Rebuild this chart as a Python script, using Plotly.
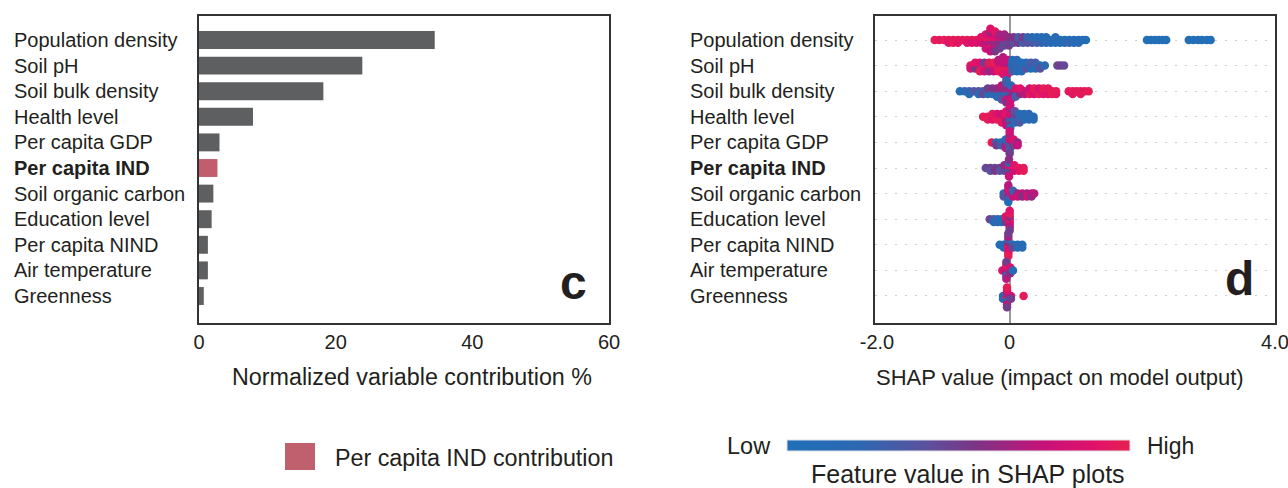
import plotly.graph_objects as go

W, H = 1288, 488

# ---------------- data ----------------
features = ["Population density", "Soil pH", "Soil bulk density", "Health level",
            "Per capita GDP", "Per capita IND", "Soil organic carbon", "Education level",
            "Per capita NIND", "Air temperature", "Greenness"]
highlight = "Per capita IND"
contribution = [34.5, 23.9, 18.2, 7.9, 3.0, 2.7, 2.1, 1.85, 1.3, 1.3, 0.7]
c_ticks = [0, 20, 40, 60]
d_ticks = [-2, 0, 4]
d_ticktext = ["-2.0", "0", "4.0"]

# SHAP beeswarm: (SHAP value, [feature values (0=low,1=high) of the points at that value])
shap_population_density = [
    (-1.13, [0.97]), (-1.06, [0.95]), (-0.99, [0.97]), (-0.92, [0.97, 0.9]),
    (-0.85, [0.95, 0.97]), (-0.78, [0.97, 0.92]), (-0.71, [0.95]), (-0.64, [0.97, 0.9]),
    (-0.57, [0.95, 0.85]), (-0.50, [0.97, 0.88]), (-0.43, [0.95, 0.8, 0.9]),
    (-0.36, [0.9, 0.75, 0.95, 0.7, 0.85, 0.8]),
    (-0.29, [0.85, 0.7, 0.95, 0.65, 0.8, 0.9, 0.6, 0.75, 0.88]),
    (-0.22, [0.8, 0.65, 0.9, 0.6, 0.75, 0.7, 0.92, 0.55]),
    (-0.15, [0.7, 0.55, 0.8, 0.6, 0.65, 0.5]),
    (-0.08, [0.6, 0.5, 0.7, 0.45, 0.65]),
    (-0.01, [0.55, 0.45, 0.6, 0.5]),
    (0.06, [0.5, 0.4, 0.55]), (0.13, [0.45, 0.5, 0.35]), (0.20, [0.45, 0.3, 0.5]),
    (0.27, [0.35, 0.4, 0.25]), (0.34, [0.25, 0.35, 0.2]), (0.41, [0.2, 0.3, 0.15]),
    (0.48, [0.15, 0.25, 0.1]), (0.55, [0.12, 0.2, 0.1]), (0.62, [0.1, 0.15]),
    (0.69, [0.12, 0.08, 0.2]), (0.76, [0.1, 0.15]), (0.83, [0.08, 0.12]),
    (0.90, [0.1, 0.25]), (0.97, [0.08, 0.12]), (1.04, [0.1, 0.15]),
    (1.10, [0.08]), (1.15, [0.1]),
    (2.07, [0.05]), (2.13, [0.05]), (2.19, [0.05]), (2.25, [0.05]), (2.31, [0.05]), (2.36, [0.05]),
    (2.70, [0.05]), (2.77, [0.05]), (2.84, [0.05]), (2.90, [0.05]), (2.97, [0.05]), (3.03, [0.05]),
]
shap_soil_ph = [
    (-0.59, [0.95, 0.85]), (-0.52, [0.97, 0.55, 0.9]), (-0.45, [0.95, 0.6, 0.85, 0.97]),
    (-0.38, [0.9, 0.97, 0.5, 0.8]), (-0.31, [0.97, 0.85, 0.95, 0.6]),
    (-0.24, [0.95, 0.9, 0.97, 0.75]), (-0.17, [0.9, 0.97, 0.8, 0.95, 0.7]),
    (-0.10, [0.85, 0.95, 0.75, 0.97, 0.8, 0.9, 0.7]),
    (-0.03, [0.8, 0.9, 0.65, 0.95, 0.75, 0.85]),
    (0.04, [0.1, 0.2, 0.05, 0.35, 0.15]), (0.11, [0.08, 0.15, 0.3, 0.1, 0.2]),
    (0.18, [0.1, 0.25, 0.08, 0.15]), (0.25, [0.12, 0.4, 0.1]), (0.32, [0.15, 0.1, 0.35]),
    (0.39, [0.2, 0.1, 0.3]), (0.46, [0.15, 0.4]), (0.53, [0.2]),
    (0.72, [0.45]), (0.77, [0.5]), (0.82, [0.45]),
]
shap_soil_bulk_density = [
    (-0.75, [0.1]), (-0.68, [0.2]), (-0.61, [0.3, 0.12]), (-0.54, [0.35]),
    (-0.47, [0.4, 0.2]), (-0.40, [0.3, 0.45]), (-0.33, [0.35, 0.2, 0.5]),
    (-0.26, [0.4, 0.15, 0.55]), (-0.19, [0.45, 0.3, 0.6, 0.2]),
    (-0.12, [0.5, 0.35, 0.6, 0.2, 0.7, 0.4]),
    (-0.05, [0.45, 0.3, 0.65, 0.2, 0.55, 0.75, 0.35, 0.6, 0.25]),
    (0.02, [0.5, 0.3, 0.7, 0.6, 0.2, 0.8]), (0.09, [0.75, 0.5, 0.85, 0.3]),
    (0.16, [0.8, 0.6, 0.9]), (0.23, [0.85, 0.7]), (0.30, [0.9, 0.95, 0.8]),
    (0.37, [0.95, 0.85, 0.97]), (0.44, [0.9, 0.97, 0.85]), (0.51, [0.95, 0.9, 0.97]),
    (0.58, [0.97, 0.9, 0.95]), (0.64, [0.95, 0.97]), (0.70, [0.97, 0.95]),
    (0.89, [0.95]), (0.95, [0.97, 0.93]), (1.01, [0.95]), (1.07, [0.97, 0.95]),
    (1.13, [0.95]), (1.19, [0.97]),
]
shap_health_level = [
    (-0.40, [0.97]), (-0.33, [0.95, 0.97]), (-0.26, [0.97, 0.9, 0.95]),
    (-0.19, [0.95, 0.97, 0.85]), (-0.12, [0.9, 0.97, 0.8, 0.95]),
    (-0.05, [0.85, 0.7, 0.95, 0.6, 0.9, 0.75]),
    (0.01, [0.6, 0.45, 0.75, 0.3, 0.85, 0.5, 0.65, 0.2, 0.8]),
    (0.08, [0.3, 0.15, 0.5, 0.2, 0.4]), (0.15, [0.15, 0.25, 0.1, 0.35]),
    (0.22, [0.1, 0.2, 0.15]), (0.29, [0.12, 0.08, 0.2]), (0.36, [0.1, 0.15]),
]
shap_per_capita_gdp = [
    (-0.27, [0.97]), (-0.20, [0.1, 0.5]), (-0.13, [0.15, 0.3]),
    (-0.06, [0.2, 0.55, 0.1, 0.7]),
    (0.00, [0.6, 0.2, 0.75, 0.45, 0.85, 0.3, 0.65, 0.5, 0.8]),
    (0.06, [0.7, 0.5, 0.85]), (0.12, [0.6, 0.75]),
]
shap_per_capita_ind = [
    (-0.36, [0.45]), (-0.29, [0.5, 0.4]), (-0.22, [0.45, 0.55]), (-0.15, [0.5, 0.4]),
    (-0.08, [0.1, 0.45, 0.6]),
    (-0.01, [0.7, 0.3, 0.85, 0.5, 0.15, 0.8, 0.6]),
    (0.07, [0.95, 0.8, 0.9]), (0.14, [0.97, 0.9]), (0.21, [0.95, 0.97]),
]
shap_soil_organic_carbon = [
    (-0.09, [0.15, 0.35]),
    (-0.02, [0.2, 0.6, 0.8, 0.4, 0.9, 0.1, 0.7]),
    (0.05, [0.55, 0.75, 0.3]), (0.12, [0.6, 0.8]), (0.19, [0.75, 0.55]),
    (0.26, [0.65, 0.8]), (0.33, [0.75, 0.6]), (0.37, [0.7]),
]
shap_education_level = [
    (-0.30, [0.45]), (-0.24, [0.4, 0.15]), (-0.18, [0.1, 0.2]), (-0.12, [0.15, 0.1]),
    (-0.06, [0.1, 0.5, 0.9]),
    (0.00, [0.85, 0.95, 0.6, 0.8, 0.97, 0.7, 0.9, 0.5]),
]
shap_per_capita_nind = [
    (-0.15, [0.1]), (-0.09, [0.15, 0.1]),
    (-0.02, [0.8, 0.95, 0.6, 0.85, 0.3, 0.9, 0.7, 0.97, 0.5]),
    (0.05, [0.15, 0.45]), (0.12, [0.1, 0.2]), (0.19, [0.1, 0.15]),
]
shap_air_temperature = [
    (-0.11, [0.85]),
    (-0.05, [0.9, 0.6, 0.8, 0.3, 0.95, 0.7, 0.5]),
    (0.01, [0.2, 0.6, 0.85]), (0.05, [0.1]),
]
shap_greenness = [
    (-0.10, [0.1, 0.2]),
    (-0.04, [0.85, 0.95, 0.6, 0.2, 0.9, 0.75, 0.97, 0.5]),
    (0.02, [0.8, 0.5]), (0.21, [0.97]),
]
shap_rows = [shap_population_density, shap_soil_ph, shap_soil_bulk_density, shap_health_level,
             shap_per_capita_gdp, shap_per_capita_ind, shap_soil_organic_carbon,
             shap_education_level, shap_per_capita_nind, shap_air_temperature, shap_greenness]

# ---------------- styling ----------------
FONT = "Liberation Sans, Arial, sans-serif"
TXT = "#231f20"
BAR_GREY = "#5e5f61"
BAR_HI = "#c25d6e"
shap_scale = [[0.0, "#1f6fb8"], [0.2, "#2b69b3"], [0.4, "#5a52a0"], [0.55, "#7c3485"],
              [0.75, "#c8117a"], [0.9, "#e0126a"], [1.0, "#e8204e"]]

row_px = 25.6
step = 2.8 / row_px  # vertical spacing of stacked dots (in row units)

bx, by, bc = [], [], []
for r, row in enumerate(shap_rows):
    for xv, cols in row:
        for k, c in enumerate(cols):
            o = ((k + 1) // 2) * (1 if k % 2 == 1 else -1)
            bx.append(xv)
            by.append(r + o * step)
            bc.append(c)

idx = list(range(len(features)))
bar_colors = [BAR_HI if f == highlight else BAR_GREY for f in features]

fig = go.Figure()
fig.add_trace(go.Bar(x=contribution, y=idx, orientation="h", width=0.7,
                     marker=dict(color=bar_colors, line=dict(width=0)),
                     xaxis="x", yaxis="y", showlegend=False, hoverinfo="skip"))
fig.add_trace(go.Scatter(
    x=bx, y=by, mode="markers", xaxis="x2", yaxis="y2", showlegend=False,
    marker=dict(size=8.5, color=bc, colorscale=shap_scale, cmin=0, cmax=1,
                line=dict(width=0), showscale=True,
                colorbar=dict(orientation="h", thickness=11, len=343, lenmode="pixels",
                              x=958.5 / W, xanchor="center", y=1 - 446 / H, yanchor="middle",
                              showticklabels=False, ticks="", outlinewidth=1,
                              outlinecolor="#e0e0e0", xpad=0, ypad=0))))

y_dom = [1 - 323 / H, 1 - 16 / H]
y_range = [11.055, -0.9375]
axis_line = dict(showline=True, mirror=True, linecolor="#333333", linewidth=1.5)

fig.update_layout(
    width=W, height=H, margin=dict(l=0, r=0, t=0, b=0, autoexpand=False),
    paper_bgcolor="white", plot_bgcolor="white",
    font=dict(family=FONT, size=20, color=TXT),
    xaxis=dict(domain=[199 / W, 609 / W], range=[0, 60], tickvals=c_ticks,
               showgrid=False, zeroline=False, ticks="", ticklabeloverflow="allow",
               tickfont=dict(size=20, color=TXT), anchor="y", **axis_line),
    yaxis=dict(domain=y_dom, range=y_range, showticklabels=False, showgrid=False,
               zeroline=False, ticks="", anchor="x", **axis_line),
    xaxis2=dict(domain=[875 / W, 1275 / W], range=[-2.03, 4.0], tickvals=d_ticks,
                ticktext=d_ticktext, showgrid=False, zeroline=True,
                zerolinecolor="#9a9a9a", zerolinewidth=1.5, ticks="",
                ticklabeloverflow="allow", tickfont=dict(size=20, color=TXT), anchor="y2",
                **axis_line),
    yaxis2=dict(domain=y_dom, range=y_range, tickvals=idx, showticklabels=False,
                showgrid=True, gridcolor="#cfcfcf", gridwidth=1.2, griddash="2px,8px",
                zeroline=False, ticks="", anchor="x2", **axis_line),
)

ann = []
for i, f in enumerate(features):
    txt = f"<b>{f}</b>" if f == highlight else f
    for xp, yr in ((12, "y"), (688, "y2")):
        ann.append(dict(x=xp / W, xref="paper", y=i, yref=yr, text=txt, showarrow=False,
                        xanchor="left", yanchor="middle", font=dict(size=20, color=TXT)))
ann += [
    dict(x=573 / W, y=1 - 282 / H, text="<b>c</b>", font=dict(size=48, color=TXT)),
    dict(x=1239 / W, y=1 - 278 / H, text="<b>d</b>", font=dict(size=48, color=TXT)),
    dict(x=412 / W, y=1 - 377 / H, text="Normalized variable contribution %", font=dict(size=23.3, color=TXT)),
    dict(x=1060 / W, y=1 - 377 / H, text="SHAP value (impact on model output)", font=dict(size=22, color=TXT)),
    dict(x=333 / W, y=1 - 458 / H, text="Per capita IND contribution", xanchor="left", font=dict(size=23.3, color=TXT)),
    dict(x=773 / W, y=1 - 446 / H, text="Low", xanchor="right", font=dict(size=23.5, color=TXT)),
    dict(x=1145 / W, y=1 - 446 / H, text="High", xanchor="left", font=dict(size=23, color=TXT)),
    dict(x=968 / W, y=1 - 474 / H, text="Feature value in SHAP plots", font=dict(size=25, color=TXT)),
]
for a in ann[22:]:
    a.setdefault("xref", "paper"); a.setdefault("yref", "paper")
    a.setdefault("showarrow", False); a.setdefault("xanchor", "center"); a.setdefault("yanchor", "middle")
fig.update_layout(annotations=ann)

fig.add_shape(type="rect", xref="paper", yref="paper", x0=285 / W, x1=315 / W,
              y0=1 - 470 / H, y1=1 - 443 / H, fillcolor="#c0606f", line=dict(width=0))

fig.write_html("out.html", config={"displayModeBar": False},
               post_script="document.body.style.margin='0px';document.body.style.overflow='hidden';")
